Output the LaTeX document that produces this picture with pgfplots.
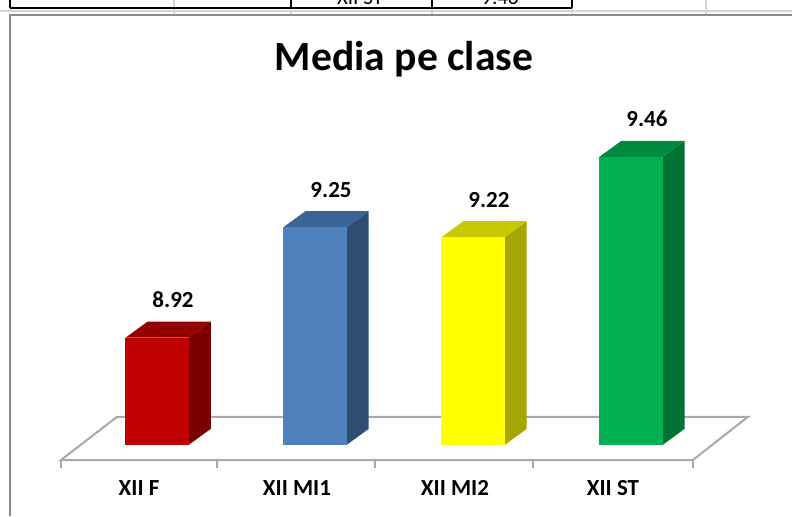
\documentclass[border=0pt]{standalone}
\usepackage{fontspec}
\setmainfont{Carlito}
\usepackage{pgfplots}
\usepackage{pgfplotstable}
\pgfplotsset{compat=1.18}
\definecolor{redF}{RGB}{192,0,0}
\definecolor{redS}{RGB}{122,0,0}
\definecolor{redT}{RGB}{146,0,0}
\definecolor{blueF}{RGB}{79,129,189}
\definecolor{blueS}{RGB}{46,77,115}
\definecolor{blueT}{RGB}{59,99,150}
\definecolor{yelF}{RGB}{255,255,0}
\definecolor{yelS}{RGB}{166,166,0}
\definecolor{yelT}{RGB}{200,200,0}
\definecolor{grnF}{RGB}{0,176,80}
\definecolor{grnS}{RGB}{0,114,54}
\definecolor{grnT}{RGB}{0,138,62}
\definecolor{floorgray}{RGB}{168,168,168}
\definecolor{bordergray}{RGB}{140,140,140}
\definecolor{gridgray}{RGB}{212,212,212}
\pgfplotstableread{
x v
0 8.92
1 9.25
2 9.22
3 9.46
}\datatable
\begin{document}
\begin{tikzpicture}
\path[use as bounding box] (0pt,0pt) rectangle (396pt,258pt);
\begin{scope}[shift={(0pt,258pt)}, x=0.5pt, y=-0.5pt]
% spreadsheet fragment above the chart
\draw[gridgray,line width=0.6pt] (0,11) -- (792,11);
\foreach \gx in {174,706} \draw[gridgray,line width=0.6pt] (\gx,0) -- (\gx,15);
\foreach \gx in {291,432,572} \draw[gridgray,line width=0.6pt] (\gx,8) -- (\gx,15);
\begin{scope}
\clip (0,0) rectangle (792,8);
\node[anchor=base,font=\fontsize{10.5}{12}\selectfont] at (360,4) {XII ST};
\node[anchor=base,font=\fontsize{10.5}{12}\selectfont] at (500,4) {9.46};
\end{scope}
\draw[black,line width=1pt] (10,8) -- (572,8);
\foreach \gx in {10,291,432,572} \draw[black,line width=1pt] (\gx,0) -- (\gx,8);
% chart area border
\draw[bordergray,line width=0.9pt] (10,516) -- (10,15) -- (792,15);
% title
\node[anchor=base,font=\fontsize{20.8}{24}\selectfont\bfseries] at (404,70) {Media pe clase};
\end{scope}
\begin{axis}[
  at={(30.5pt,28pt)}, anchor=south west,
  scale only axis, width=343.5pt, height=183.4pt,
  xmin=-0.608, xmax=3.741, ymin=8.555, ymax=9.65,
  clip=false,
  axis line style={draw=none},
  ytick=\empty,
  xtick={-0.114,0.886,1.886,2.886},
  xticklabels={XII F, XII MI1, XII MI2, XII ST},
  major tick length=0pt,
  xticklabel style={anchor=base, yshift=-17.5pt, font=\fontsize{11.5}{13}\selectfont\bfseries},
  /pgf/number format/assume math mode=true,
]
% floor
\draw[floorgray,line width=1pt] (axis cs:-0.253,8.684) -- (axis cs:3.741,8.684) -- (axis cs:3.392,8.555) -- (axis cs:-0.608,8.555) -- cycle;
\draw[floorgray,line width=1pt] (axis cs:-0.608,8.555) -- (axis cs:-0.608,8.531);
\draw[floorgray,line width=1pt] (axis cs:0.380,8.555) -- (axis cs:0.380,8.531);
\draw[floorgray,line width=1pt] (axis cs:1.380,8.555) -- (axis cs:1.380,8.531);
\draw[floorgray,line width=1pt] (axis cs:2.380,8.555) -- (axis cs:2.380,8.531);
\draw[floorgray,line width=1pt] (axis cs:3.392,8.555) -- (axis cs:3.392,8.531);
% XII F
\addplot[fill=redS,draw=none] coordinates {(0.2,8.6) (0.34,8.648) (0.34,8.968) (0.2,8.92)} --cycle;
\addplot[fill=redT,draw=none] coordinates {(-0.2,8.92) (0.2,8.92) (0.34,8.968) (-0.06,8.968)} --cycle;
\addplot[fill=redF,draw=none] coordinates {(-0.2,8.6) (0.2,8.6) (0.2,8.92) (-0.2,8.92)} --cycle;
% XII MI1
\addplot[fill=blueS,draw=none] coordinates {(1.2,8.6) (1.34,8.648) (1.34,9.298) (1.2,9.25)} --cycle;
\addplot[fill=blueT,draw=none] coordinates {(0.8,9.25) (1.2,9.25) (1.34,9.298) (0.94,9.298)} --cycle;
\addplot[fill=blueF,draw=none] coordinates {(0.8,8.6) (1.2,8.6) (1.2,9.25) (0.8,9.25)} --cycle;
% XII MI2
\addplot[fill=yelS,draw=none] coordinates {(2.2,8.6) (2.34,8.648) (2.34,9.268) (2.2,9.22)} --cycle;
\addplot[fill=yelT,draw=none] coordinates {(1.8,9.22) (2.2,9.22) (2.34,9.268) (1.94,9.268)} --cycle;
\addplot[fill=yelF,draw=none] coordinates {(1.8,8.6) (2.2,8.6) (2.2,9.22) (1.8,9.22)} --cycle;
% XII ST
\addplot[fill=grnS,draw=none] coordinates {(3.2,8.6) (3.34,8.648) (3.34,9.508) (3.2,9.46)} --cycle;
\addplot[fill=grnT,draw=none] coordinates {(2.8,9.46) (3.2,9.46) (3.34,9.508) (2.94,9.508)} --cycle;
\addplot[fill=grnF,draw=none] coordinates {(2.8,8.6) (3.2,8.6) (3.2,9.46) (2.8,9.46)} --cycle;
% data labels
\addplot[draw=none, mark=none, nodes near coords, point meta=y,
  every node near coord/.append style={anchor=base, xshift=8pt, yshift=15pt, font=\fontsize{11.5}{13}\selectfont\bfseries},
  /pgf/number format/.cd, fixed, precision=2, fixed zerofill]
  table[x=x,y=v]{\datatable};
\end{axis}
\end{tikzpicture}
\end{document}
